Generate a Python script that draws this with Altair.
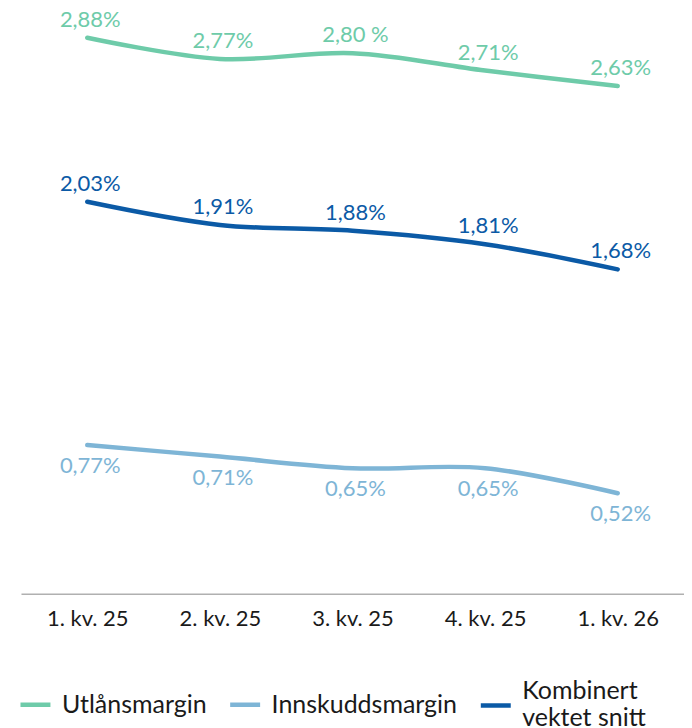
import altair as alt
import pandas as pd

quarters = ["1. kv. 25", "2. kv. 25", "3. kv. 25", "4. kv. 25", "1. kv. 26"]
series_names = ["Utlånsmargin", "Innskuddsmargin", "Kombinert vektet snitt"]
utlan = [2.88, 2.77, 2.80, 2.71, 2.63]
utlan_labels = ["2,88%", "2,77%", "2,80 %", "2,71%", "2,63%"]
innskudd = [0.77, 0.71, 0.65, 0.65, 0.52]
innskudd_labels = ["0,77%", "0,71%", "0,65%", "0,65%", "0,52%"]
kombinert = [2.03, 1.91, 1.88, 1.81, 1.68]
kombinert_labels = ["2,03%", "1,91%", "1,88%", "1,81%", "1,68%"]
colors = ["#6ECBA9", "#7EB5D6", "#0B5AA6"]
widths = [4.5, 4.5, 6]
legend_shapes = ["M-1,0H1", "M-1,0H1", "M-1,0.95H1"]

rows = []
for name, vals, labs, pos in [
    (series_names[0], utlan, utlan_labels, "above"),
    (series_names[1], innskudd, innskudd_labels, "below"),
    (series_names[2], kombinert, kombinert_labels, "above"),
]:
    for q, v, l in zip(quarters, vals, labs):
        rows.append({"kvartal": q, "serie": name, "verdi": v, "etikett": l, "pos": pos})
df = pd.DataFrame(rows)

FONT = "Lato"

x = alt.X("kvartal:N", sort=quarters, title=None,
          scale=alt.Scale(type="point", padding=0.5),
          axis=alt.Axis(labelAngle=0, ticks=False, grid=False, domainColor="#B0B0B0",
                        domainWidth=1.5, labelFontSize=22, labelColor="#1A1A1A",
                        labelFont=FONT, labelPadding=15))
y = alt.Y("verdi:Q", scale=alt.Scale(domain=[0, 3], nice=False, zero=True), axis=None)
color = alt.Color("serie:N", sort=series_names,
                  scale=alt.Scale(domain=series_names, range=colors),
                  legend=alt.Legend(title=None, orient="none", direction="horizontal",
                                    columns=3, legendX=-3, legendY=660,
                                    symbolSize=900,
                                    labelFont=FONT,
                                    labelFontSize=25, labelColor="#1A1A1A",
                                    labelOffset=9, columnPadding=14, padding=0,
                                    labelLimit=300,
                                    labelExpr="datum.label == 'Kombinert vektet snitt' ? ['Kombinert', 'vektet snitt'] : datum.label"))
sw = alt.StrokeWidth("serie:N", sort=series_names,
                     scale=alt.Scale(domain=series_names, range=widths))
shape = alt.Shape("serie:N", sort=series_names,
                  scale=alt.Scale(domain=series_names, range=legend_shapes))

text_color = alt.Color("serie:N", scale=alt.Scale(domain=series_names, range=colors), legend=None)

base = alt.Chart(df)
lines = base.mark_line(interpolate="catmull-rom", strokeCap="round").encode(
    x=x, y=y, color=color, strokeWidth=sw)

legend_layer = base.transform_filter("false").mark_point(filled=False, size=900, opacity=1).encode(
    x=x, y=y, color=color, strokeWidth=sw, shape=shape)

text_above = base.transform_filter(alt.datum.pos == "above").mark_text(
    dy=-18, dx=3, fontSize=22, font=FONT).encode(
    x=x, y=y, text="etikett:N", color=text_color)
text_below = base.transform_filter(alt.datum.pos == "below").mark_text(
    dy=21, dx=3, fontSize=22, font=FONT).encode(
    x=x, y=y, text="etikett:N", color=text_color)

chart = alt.layer(lines, legend_layer, text_above, text_below).properties(
    width=664, height=580,
    padding={"left": 13, "top": 6, "right": 0, "bottom": 134},
    autosize=alt.AutoSizeParams(type="none"),
    background="white",
).configure_view(strokeWidth=0)

chart.save("out.html", embed_options={"renderer": "svg", "actions": False})
